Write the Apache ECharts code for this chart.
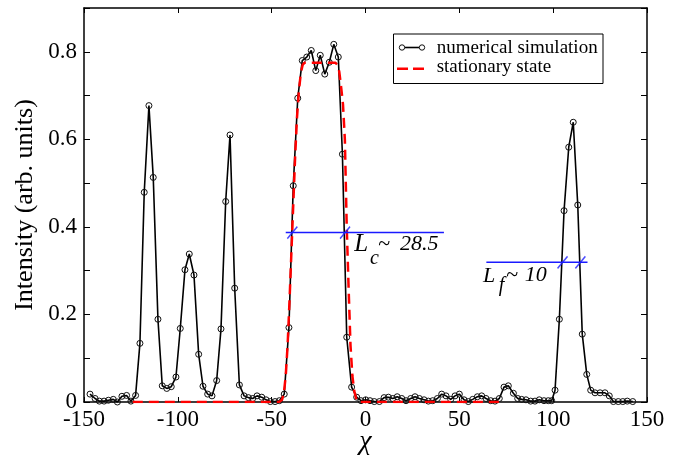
<!DOCTYPE html>
<html><head><meta charset="utf-8">
<script src="https://cdn.jsdelivr.net/npm/echarts@6/dist/echarts.min.js"></script>
<style>html,body{margin:0;padding:0;background:#fff}#c{width:678px;height:460px}</style>
</head><body><div id="c"></div>
<script>
// numerical simulation (chi, intensity)
const simX = [-146.8,-144.1,-141.8,-139.3,-137.0,-134.4,-132.2,-129.8,-127.3,-125.0,
-122.5,-120.2,-117.9,-115.4,-113.1,-110.6,-108.3,-105.9,-103.5,-101.0,
-98.7,-96.2,-93.9,-91.4,-88.9,-86.6,-84.1,-81.8,-79.3,-77.0,
-74.5,-72.2,-69.7,-67.2,-64.7,-62.4,-60.1,-57.8,-55.3,-53.0,
-50.7,-48.2,-45.9,-43.3,-40.8,-38.5,-36.1,-33.7,-31.3,-28.9,
-26.5,-24.1,-21.7,-19.3,-16.9,-14.5,-12.3,-10.0,-7.4,-4.7,
-2.4,0.1,2.4,4.7,7.4,9.9,12.2,14.5,16.9,19.3,
21.6,24.1,26.4,28.7,31.2,33.5,35.8,38.3,40.6,42.9,
45.4,47.7,50.0,52.5,54.8,57.1,59.6,61.9,64.2,66.7,
69.0,71.3,73.8,76.1,78.8,81.1,83.2,85.5,88.0,90.3,
92.6,95.1,97.4,99.2,101.0,103.3,105.8,108.3,110.7,113.1,
115.5,117.9,120.0,122.3,125.0,127.6,129.9,132.1,134.7,137.1,
139.5,142.4];
const simY = [0.018,0.008,0.002,0.002,0.004,0.006,0.000,0.013,0.015,0.002,
0.015,0.134,0.479,0.677,0.513,0.189,0.037,0.031,0.035,0.057,
0.168,0.302,0.338,0.290,0.109,0.036,0.018,0.014,0.049,0.167,
0.458,0.610,0.260,0.039,0.014,0.010,0.008,0.014,0.011,0.005,
0.001,0.001,0.003,0.018,0.170,0.494,0.694,0.780,0.788,0.803,
0.757,0.792,0.749,0.776,0.817,0.788,0.566,0.148,0.034,0.011,
0.003,0.005,0.003,0.001,0.001,0.010,0.011,0.008,0.012,0.008,
0.003,0.008,0.012,0.008,0.005,0.002,0.003,0.008,0.018,0.014,
0.006,0.014,0.018,0.005,0.001,0.006,0.012,0.014,0.008,0.003,
0.002,0.008,0.034,0.037,0.020,0.008,0.006,0.005,0.002,0.002,
0.005,0.003,0.003,0.003,0.027,0.189,0.437,0.582,0.639,0.450,
0.155,0.063,0.027,0.021,0.021,0.021,0.014,0.001,0.001,0.001,
0.002,0.001];
// stationary state profile
const statX = [-124,-46,-44.5,-43.5,-42.5,-41.5,-40.5,-39.5,-38.5,-37.5,-36.5,-35.5,-34.5,-33.5,-32.5,
-16,-15,-14,-13,-12,-11,-10,-9,-8,-7,-6,-5,-4,73];
const statY = [0,0,0.005,0.02,0.06,0.13,0.23,0.34,0.45,0.56,0.65,0.71,0.75,0.77,0.775,
0.775,0.77,0.755,0.72,0.68,0.60,0.40,0.26,0.13,0.06,0.025,0.008,0,0];
// width annotations
const lcLineX = [-42.5, 41.8], lcLevel = 0.387, lcCrossX = [-39.0, -10.9];
const lfLineX = [64.4, 118.3], lfLevel = 0.319, lfCrossX = [105.0, 114.5];
const xTicks = [-150,-100,-50,0,50,100,150];
const yTickLabels = ['0','0.2','0.4','0.6','0.8'];

const serif = 'Liberation Serif, Times New Roman, serif';
const pairs = (xs, ys) => xs.map((x, i) => [x, ys[i]]);
const BLUE = '#1a1aff';

const chart = echarts.init(document.getElementById('c'), null, {renderer: 'canvas'});

function textPt(x, y, txt, size, italic) {
  return {
    type: 'scatter', data: [[x, y]], symbolSize: 0, silent: true, z: 20,
    itemStyle: {color: '#000', opacity: 1},
    label: {show: true, position: 'right', distance: 0, formatter: txt, opacity: 1,
      textBorderWidth: 0, fontFamily: serif, fontSize: size,
      fontStyle: italic ? 'italic' : 'normal', color: '#000'}
  };
}

const axisCommon = {
  min: -150, max: 150, interval: 50,
  axisLine: {onZero: false, lineStyle: {color: '#000', width: 1.5}},
  splitLine: {show: false}
};

chart.setOption({
  animation: false,
  backgroundColor: '#fff',
  grid: {left: 84, right: 31, top: 8, bottom: 58, containLabel: false, outerBoundsMode: 'none'},
  xAxis: [
    Object.assign({}, axisCommon, {
      type: 'value', position: 'bottom',
      axisTick: {inside: true, length: 5, lineStyle: {color: '#000', width: 1}},
      axisLabel: {color: '#000', fontFamily: serif, fontSize: 23, margin: 6,
        formatter: v => xTicks.indexOf(v) >= 0 ? String(v) : ''},
      name: 'χ', nameLocation: 'middle', nameGap: 26, nameMoveOverlap: false,
      nameTextStyle: {color: '#000', fontFamily: serif, fontSize: 28, fontStyle: 'italic'}
    }),
    Object.assign({}, axisCommon, {
      type: 'value', position: 'top',
      axisTick: {inside: true, length: 5, lineStyle: {color: '#000', width: 1}},
      axisLabel: {show: false}
    })
  ],
  yAxis: [
    {
      type: 'value', min: 0, max: 0.9, interval: 0.1, position: 'left',
      axisLine: {show: true, onZero: false, lineStyle: {color: '#000', width: 1.5}},
      axisTick: {show: true, inside: true, length: 6, lineStyle: {color: '#000', width: 1}},
      splitLine: {show: false},
      axisLabel: {color: '#000', fontFamily: serif, fontSize: 23, margin: 7,
        formatter: v => { const k = Math.round(v * 10); return k % 2 === 0 ? (yTickLabels[k / 2] || '') : ''; }},
      name: 'Intensity (arb. units)', nameLocation: 'middle', nameGap: 46, nameMoveOverlap: false,
      nameTextStyle: {color: '#000', fontFamily: serif, fontSize: 26}
    },
    {
      type: 'value', min: 0, max: 0.9, interval: 0.1, position: 'right',
      axisLine: {show: true, onZero: false, lineStyle: {color: '#000', width: 1.5}},
      axisTick: {show: true, inside: true, length: 6, lineStyle: {color: '#000', width: 1}},
      splitLine: {show: false}, axisLabel: {show: false}
    }
  ],
  series: [
    {
      name: 'numerical simulation', type: 'line', data: pairs(simX, simY),
      symbol: 'circle', symbolSize: 6, showAllSymbol: true, z: 3,
      lineStyle: {color: '#000', width: 1.6},
      itemStyle: {color: 'rgba(0,0,0,0)', borderColor: '#111', borderWidth: 1}
    },
    {
      name: 'stationary state', type: 'line', data: pairs(statX, statY),
      symbol: 'none', z: 4,
      lineStyle: {color: '#ff0000', width: 2.5, type: [10, 6]}
    },
    {
      type: 'line', data: lcLineX.map(x => [x, lcLevel]), symbol: 'none', z: 5,
      lineStyle: {color: BLUE, width: 1.5}
    },
    {
      type: 'line', data: lfLineX.map(x => [x, lfLevel]), symbol: 'none', z: 5,
      lineStyle: {color: BLUE, width: 1.5}
    },
    {
      type: 'scatter', z: 6, silent: true,
      data: lcCrossX.map(x => [x, lcLevel]).concat(lfCrossX.map(x => [x, lfLevel])),
      symbol: 'path://M0,12L10,0', symbolSize: [10, 12],
      itemStyle: {color: 'none', borderColor: BLUE, borderWidth: 1.5}
    },
    textPt(-6.0, 0.361, 'L', 25, true),
    textPt(2.4, 0.328, 'c', 20, true),
    textPt(6.7, 0.360, '~', 22, true),
    textPt(18.4, 0.360, '28.5', 22, true),
    textPt(62.6, 0.288, 'L', 22, true),
    textPt(71.0, 0.265, 'f', 20, true),
    textPt(74.9, 0.289, '~', 22, true),
    textPt(84.8, 0.289, '10', 22, true)
  ],
  graphic: [
    {type: 'group', z: 100, children: [
      {type: 'rect', shape: {x: 393.5, y: 34, width: 209.5, height: 49.5},
        style: {fill: '#fff', stroke: '#000', lineWidth: 1}},
      {type: 'line', shape: {x1: 402, y1: 47.5, x2: 422, y2: 47.5}, style: {stroke: '#000', lineWidth: 1.6}},
      {type: 'circle', shape: {cx: 402, cy: 47.5, r: 2.7}, style: {fill: '#fff', stroke: '#111', lineWidth: 1}},
      {type: 'circle', shape: {cx: 422, cy: 47.5, r: 2.7}, style: {fill: '#fff', stroke: '#111', lineWidth: 1}},
      {type: 'text', x: 436.7, y: 48, style: {text: 'numerical simulation', fill: '#000',
        font: '19px ' + serif, verticalAlign: 'middle', align: 'left'}},
      {type: 'line', shape: {x1: 397, y1: 68.7, x2: 424, y2: 68.7},
        style: {stroke: '#ff0000', lineWidth: 2.5, lineDash: [11, 5]}},
      {type: 'text', x: 436.7, y: 67, style: {text: 'stationary state', fill: '#000',
        font: '19px ' + serif, verticalAlign: 'middle', align: 'left'}}
    ]}
  ]
});
</script>
</body></html>
